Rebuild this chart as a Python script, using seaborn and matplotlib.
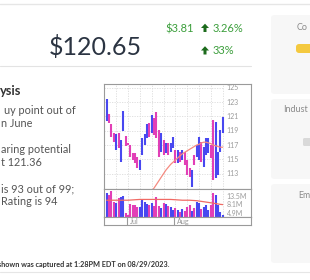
import matplotlib
matplotlib.use("Agg")
import matplotlib.pyplot as plt
import seaborn as sns
import numpy as np
import pandas as pd
from matplotlib.patches import FancyBboxPatch, Polygon
from matplotlib.lines import Line2D

# ---------------- data ----------------
bar_high = [123.42, 121.28, 119.89, 118.63, 118.49, 118.63, 117.70, 121.75, 118.26, 117.30,
            117.00, 115.84, 115.84, 115.38, 114.91, 117.94, 118.49, 119.89, 120.03, 121.24,
            120.77, 121.60, 119.10, 118.63, 117.70, 117.24, 117.24, 117.24, 118.17, 116.31,
            116.31, 116.07, 116.31, 116.07, 114.91, 113.75, 113.51, 115.61, 117.00, 118.17,
            117.47, 116.77, 117.94, 117.94, 117.00, 120.49, 120.26, 116.07, 119.10, 120.96]
bar_low = [120.35, 120.03, 118.17, 117.47, 116.31, 116.54, 114.68, 118.96, 116.91, 117.00,
           115.38, 114.91, 114.45, 113.75, 113.51, 115.61, 117.00, 117.94, 118.17, 118.63,
           118.40, 118.00, 115.38, 116.07, 115.61, 115.84, 115.61, 116.07, 116.54, 114.45,
           114.45, 114.59, 114.91, 114.21, 112.82, 112.59, 111.19, 114.21, 115.38, 114.91,
           114.68, 113.98, 115.61, 115.84, 115.15, 112.12, 112.35, 112.82, 116.07, 118.63]
bar_dir = ["up", "down", "down", "down", "up", "down", "up", "up", "down", "down",
           "down", "down", "down", "down", "up", "up", "up", "up", "down", "up",
           "down", "down", "down", "up", "down", "up", "down", "up", "up", "down",
           "up", "down", "up", "down", "down", "down", "up", "down", "up", "up",
           "down", "up", "up", "up", "down", "down", "up", "up", "up", "up"]
volume_m = [16.4, 14.3, 18.2, 9.6, 8.7, 11.8, 12.9, 13.5, 4.8, 4.3,
            8.4, 7.9, 7.9, 7.1, 7.1, 10.6, 9.6, 8.4, 7.9, 9.1,
            7.6, 12.9, 7.6, 6.5, 8.7, 8.4, 7.4, 7.1, 5.8, 6.5,
            5.8, 5.3, 6.1, 5.6, 6.9, 7.9, 5.6, 6.5, 9.6, 8.7,
            6.2, 6.9, 7.9, 5.8, 8.0, 15.8, 14.3, 7.9, 5.3, 4.3]
price_ma = [np.nan] * 19 + [110.6, 111.0, 111.5, 112.0, 112.5, 113.0, 113.5, 113.9, 114.3, 114.6,
                            114.9, 115.2, 115.5, 115.8, 116.0, 116.2, 116.4, 116.6, 116.8, 117.0,
                            117.1, 117.3, 117.4, 117.4, 117.3, 117.2, 117.0, 116.9, 116.8, 116.7,
                            116.7]
volume_ma = [10.5, 10.5, 10.5, 10.5, 10.5, 10.5, 10.5, 10.5, 10.5, 10.5,
             10.6, 10.7, 10.8, 10.9, 11.0, 11.0, 11.0, 11.0, 11.0, 11.0,
             11.0, 11.0, 11.0, 11.0, 11.0, 11.0, 11.0, 11.0, 10.9, 10.8,
             10.7, 10.6, 10.5, 10.5, 10.5, 10.5, 10.4, 10.3, 10.2, 10.0,
             9.8, 9.6, 9.4, 9.2, 9.0, 8.8, 8.6, 8.4, 8.2, 8.1]
price_ticks = [113, 115, 117, 119, 121, 123, 125]
volume_tick_values = [13.5, 8.1, 4.9]
volume_tick_labels = ["13.5M", "8.1M", "4.9M"]
month_labels = ["Jul", "Aug"]
month_first_bar = [9, 29]

# ---------------- figure ----------------
sns.set_style("white")
plt.rcParams["font.family"] = ["Lato", "DejaVu Sans"]

W, H = 310, 280
fig = plt.figure(figsize=(W / 100, H / 100), dpi=100)


def rect(x0, y0, x1, y1):
    return [x0 / W, 1 - y1 / H, (x1 - x0) / W, (y1 - y0) / H]


def fx(x):
    return x / W


def fy(y):
    return 1 - y / H


# page decorations
fig.add_artist(Line2D([0, 1], [fy(4), fy(4)], color="#e6e6e6", lw=1.0))
fig.add_artist(Line2D([0, fx(251)], [fy(66), fy(66)], color="#e3e3e3", lw=0.8))
fig.add_artist(Line2D([0, 1], [fy(272), fy(272)], color="#e6e6e6", lw=0.8))

for (y0, y1) in [(15, 94), (99, 179), (184, 263)]:
    fig.add_artist(FancyBboxPatch((fx(271), fy(y1)), fx(60), (y1 - y0) / H,
                                  boxstyle="round,pad=0,rounding_size=0.012",
                                  fc="#f7f7f7", ec="none", transform=fig.transFigure))
fig.add_artist(FancyBboxPatch((fx(296), fy(53)), fx(30), 9 / H,
                              boxstyle="round,pad=0,rounding_size=0.01",
                              fc="#f4c93f", ec="none", transform=fig.transFigure))
fig.add_artist(FancyBboxPatch((fx(303), fy(146)), fx(20), 8 / H,
                              boxstyle="round,pad=0,rounding_size=0.005",
                              fc="#d9d9d9", ec="none", transform=fig.transFigure))
fig.text(fx(296.5), fy(28), "Co", fontsize=6.5, color="#8a8a8a", va="center", ha="left")
fig.text(fx(283), fy(110), "Indust", fontsize=6.5, color="#8a8a8a", va="center", ha="left")
fig.text(fx(298.5), fy(195), "Em", fontsize=6.3, color="#8a8a8a", va="center", ha="left")

# price header
fig.text(fx(142), fy(55), "$120.65", fontsize=18, color="#2b3442", ha="right", va="baseline")
green = "#3b9e3b"
dark_green = "#1c6b1c"
fig.text(fx(165), fy(32.3), "$3.81", fontsize=8, color=green, ha="left", va="baseline")
fig.text(fx(213), fy(32.3), "3.26%", fontsize=8, color=green, ha="left", va="baseline")
fig.text(fx(213), fy(54.5), "33%", fontsize=8, color=green, ha="left", va="baseline")
for yc in (28, 50.5):
    pts = [(201, yc), (205, yc - 4.3), (209, yc), (206.5, yc), (206.5, yc + 4), (203.5, yc + 4), (203.5, yc)]
    fig.add_artist(Polygon([(fx(a), fy(b)) for a, b in pts], closed=True, fc=dark_green, ec="none",
                           transform=fig.transFigure))

# left column text (only the part visible in the crop)
fig.text(fx(0.3), fy(95), "ysis", fontsize=9.3, fontweight="bold", color="#333333", ha="left", va="baseline")
body = [("uy point out of", 3.5, 114.5), ("n June", 1.0, 126.7),
        ("aring potential", 0.8, 153.3), ("t 121.36", 0.8, 166),
        ("is 93 out of 99;", 0.8, 192.7), ("Rating is 94", 1.0, 205)]
for txt, xl, yb in body:
    fig.text(fx(xl), fy(yb), txt, fontsize=7.8, color="#555555", ha="left", va="baseline")
fig.text(fx(170), fy(267), "shown was captured at 1:28PM EDT on 08/29/2023.",
         fontsize=5.2, color="#333333", ha="right", va="baseline", fontweight="bold")

# ---------------- chart ----------------
n = len(bar_high)
xs = np.arange(n)
x_left, x_right = -1.35, 60.75
blue = "#4848f0"
pink = "#e23fb6"
colors = [blue if d == "up" else pink for d in bar_dir]
frame_c = "#9a9a9a"
grid_c = "#dcdcdc"
vgrid = [4, 9, 14, 19, 24, 29, 34, 39, 44, 49]

ax = fig.add_axes(rect(103.5, 84, 250.5, 189))
axv = fig.add_axes(rect(103.5, 189, 250.5, 216.7))
axd = fig.add_axes(rect(103.5, 216.7, 250.5, 225))

for a in (ax, axv, axd):
    a.set_xlim(x_left, x_right)
    a.set_xticks([])
    a.set_yticks([])
    for s in a.spines.values():
        s.set_color(frame_c)
        s.set_linewidth(0.8)
    a.set_facecolor("white")

ax.set_ylim(110.87, 125.52)
for t in price_ticks:
    ax.axhline(t, xmin=0, xmax=(49.6 - x_left) / (x_right - x_left), color=grid_c, lw=0.6, ls=(0, (1.5, 1.5)))
    ax.text(50.7, t, str(t), fontsize=5, color="#9a9a9a", ha="left", va="center")
for g in vgrid:
    ax.axvline(g, color=grid_c, lw=0.6, ls=(0, (1.5, 1.5)))
    axv.axvline(g, color=grid_c, lw=0.6, ls=(0, (1.5, 1.5)))

ax.vlines(xs, bar_low, bar_high, colors=colors, lw=1.5)
df_ma = pd.DataFrame({"x": xs, "ma": price_ma})
sns.lineplot(data=df_ma, x="x", y="ma", ax=ax, color="#f58a80", lw=0.9, legend=False)
ax.set_xlabel("")
ax.set_ylabel("")

axv.set_yscale("log")
axv.set_ylim(3.93, 20.5)
axv.vlines(xs, 1, volume_m, colors=colors, lw=1.5)
df_vma = pd.DataFrame({"x": xs, "vma": volume_ma})
sns.lineplot(data=df_vma, x="x", y="vma", ax=axv, color="#f06a64", lw=0.9, legend=False)
axv.set_yticks([])
axv.minorticks_off()
axv.set_xlabel("")
axv.set_ylabel("")
for v, lab in zip(volume_tick_values, volume_tick_labels):
    axv.text(50.7, v, lab, fontsize=5, color="#9a9a9a", ha="left", va="center")

axd.set_ylim(0, 1)
for m, lab in zip(month_first_bar, month_labels):
    axd.axvline(m - 0.5, color=frame_c, lw=0.8)
    axd.text(m + 0.8, 0.45, lab, fontsize=5.2, color="#9a9a9a", ha="left", va="center")

fig.savefig("out.png", dpi=100)
